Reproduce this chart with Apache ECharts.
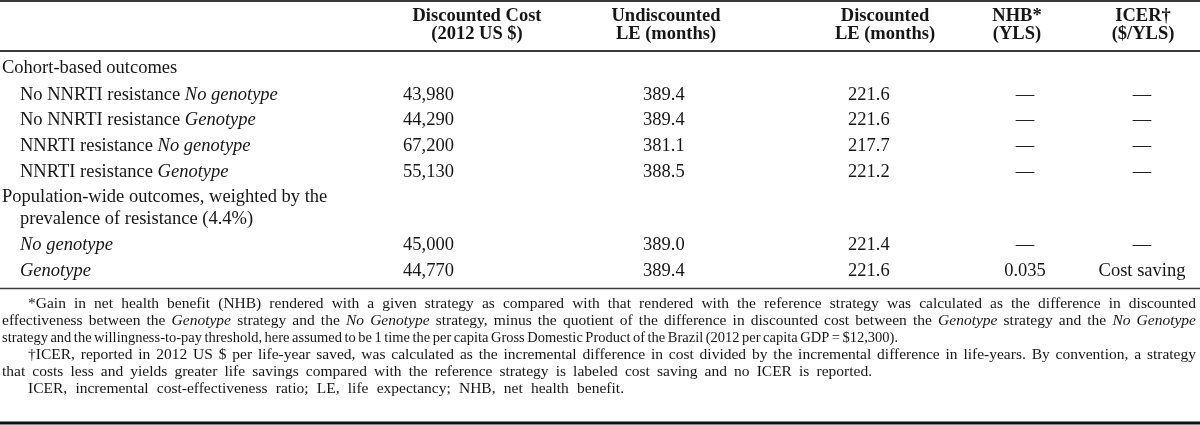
<!DOCTYPE html>
<html><head><meta charset="utf-8">
<script src="https://cdn.jsdelivr.net/npm/echarts@6/dist/echarts.min.js"></script>
<style>html,body{margin:0;padding:0;background:#fff}#c{width:1200px;height:425px}</style>
</head><body><div id="c"></div>
<script>
// ---- data ----
const headerLine1 = ['Discounted Cost', 'Undiscounted', 'Discounted', 'NHB*', 'ICER†'];
const headerLine2 = ['(2012 US $)', 'LE (months)', 'LE (months)', '(YLS)', '($/YLS)'];
// "~" marks an italic word
const rowLabels = [
  'Cohort-based outcomes',
  'No NNRTI resistance ~No ~genotype',
  'No NNRTI resistance ~Genotype',
  'NNRTI resistance ~No ~genotype',
  'NNRTI resistance ~Genotype',
  'Population-wide outcomes, weighted by the',
  'prevalence of resistance (4.4%)',
  '~No ~genotype',
  '~Genotype'
];
const discountedCost = ['', '43,980', '44,290', '67,200', '55,130', '', '', '45,000', '44,770'];
const undiscountedLE = ['', '389.4', '389.4', '381.1', '388.5', '', '', '389.0', '389.4'];
const discountedLE  = ['', '221.6', '221.6', '217.7', '221.2', '', '', '221.4', '221.6'];
const nhbYLS        = ['', '—', '—', '—', '—', '', '', '—', '0.035'];
const icerPerYLS    = ['', '—', '—', '—', '—', '', '', '—', 'Cost saving'];
const footnotes = [
  '*Gain in net health benefit (NHB) rendered with a given strategy as compared with that rendered with the reference strategy was calculated as the difference in discounted',
  'effectiveness between the ~Genotype strategy and the ~No ~Genotype strategy, minus the quotient of the difference in discounted cost between the ~Genotype strategy and the ~No ~Genotype',
  'strategy and the willingness-to-pay threshold, here assumed to be 1 time the per capita Gross Domestic Product of the Brazil (2012 per capita GDP = $12,300).',
  '†ICER, reported in 2012 US $ per life-year saved, was calculated as the incremental difference in cost divided by the incremental difference in life-years. By convention, a strategy',
  'that costs less and yields greater life savings compared with the reference strategy is labeled cost saving and no ICER is reported.',
  'ICER, incremental cost-effectiveness ratio; LE, life expectancy; NHB, net health benefit.'
];

// ---- layout ----
const FAMILY = '"Liberation Serif", "Times New Roman", serif';
const BODY = 18.5, NOTE = 15.5;
const TEXT_COLOR = '#161616';
const headerCenters = [477, 666, 885, 1017, 1143];
const headerY = [16, 34];
const rowY = [68, 95, 120, 146, 172, 197, 219, 245, 271];
const rowIndent = [2, 20, 20, 20, 20, 2, 20, 20, 20];
const valueCols = [
  { data: discountedCost, x: 403, align: 'left' },
  { data: undiscountedLE, x: 643, align: 'left' },
  { data: discountedLE, x: 848, align: 'left' },
  { data: nhbYLS, x: 1025, align: 'center' },
  { data: icerPerYLS, x: 1142, align: 'center' }
];
const noteY0 = 304, noteStep = 17;
const noteIndent = [28, 2, 2, 28, 2, 28];
const noteEnd = [1196, 1196, 898, 1196, 872, 624];

const ctx = document.createElement('canvas').getContext('2d');
function fontStr(size, italic, bold) {
  return (italic ? 'italic ' : 'normal ') + (bold ? 'bold ' : 'normal ') + size + 'px ' + FAMILY;
}
function measure(t, size, italic, bold) { ctx.font = fontStr(size, italic, bold); return ctx.measureText(t).width; }
function textEl(t, x, y, size, italic, bold, align, sx) {
  return {
    type: 'text', x: x, y: y, scaleX: sx || 1, silent: true,
    style: {
      text: t, x: 0, y: 0, fontSize: size, fontFamily: FAMILY,
      fontStyle: italic ? 'italic' : 'normal', fontWeight: bold ? 'bold' : 'normal',
      fill: TEXT_COLOR, align: align || 'left', textAlign: align || 'left',
      verticalAlign: 'middle', textVerticalAlign: 'middle'
    }
  };
}
// lay out words of a line; if endX given, fit the line between x and endX
function placeLine(str, x, y, size, endX) {
  const words = str.split(' ').map(w => w.startsWith('~') ? { t: w.slice(1), it: true } : { t: w, it: false });
  const widths = words.map(w => measure(w.t, size, w.it, false));
  const space = measure(' ', size, false, false);
  const total = widths.reduce((a, b) => a + b, 0);
  const n = words.length - 1;
  let gap = space, sx = 1;
  if (endX) {
    const target = endX - x;
    const minGap = space * 0.65;
    if (target >= total + minGap * n) gap = (target - total) / n;
    else { gap = minGap; sx = (target - minGap * n) / total; }
  }
  const els = [];
  let cx = x;
  words.forEach((w, i) => { els.push(textEl(w.t, cx, y, size, w.it, false, 'left', sx)); cx += widths[i] * sx + gap; });
  return els;
}

const graphics = [];
function hline(y, w, color) {
  graphics.push({ type: 'line', silent: true, shape: { x1: 0, y1: y, x2: 1200, y2: y }, style: { stroke: color, lineWidth: w } });
}
hline(1, 2, '#3a3a3a');
hline(51, 2, '#3a3a3a');
hline(288.5, 1.6, '#3a3a3a');
hline(423, 3, '#111');

headerLine1.forEach((t, i) => graphics.push(textEl(t, headerCenters[i], headerY[0], BODY, false, true, 'center')));
headerLine2.forEach((t, i) => graphics.push(textEl(t, headerCenters[i], headerY[1], BODY, false, true, 'center')));
rowLabels.forEach((lab, i) => graphics.push(...placeLine(lab, rowIndent[i], rowY[i], BODY, null)));
valueCols.forEach(col => col.data.forEach((v, i) => { if (v) graphics.push(textEl(v, col.x, rowY[i], BODY, false, false, col.align)); }));
footnotes.forEach((f, i) => graphics.push(...placeLine(f, noteIndent[i], noteY0 + i * noteStep, NOTE, noteEnd[i])));

const chart = echarts.init(document.getElementById('c'), null, { renderer: 'canvas' });
chart.setOption({ backgroundColor: '#fff', animation: false, graphic: { elements: graphics } });
</script></body></html>
